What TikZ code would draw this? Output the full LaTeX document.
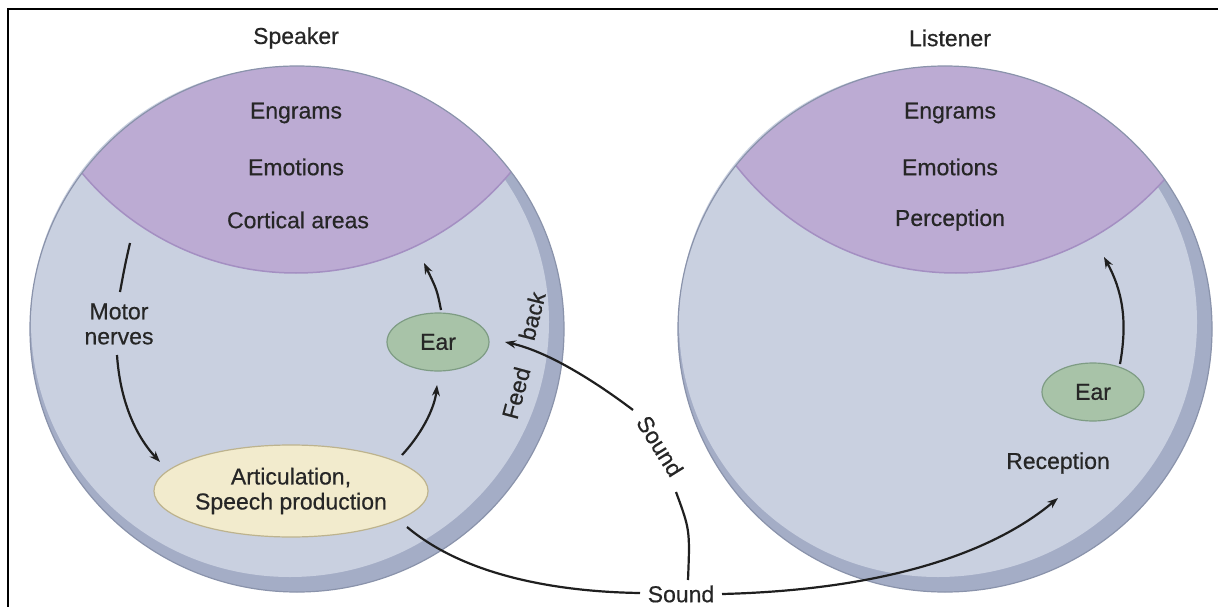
\documentclass[tikz,border=0pt]{standalone}
\usepackage{fontspec}
\setmainfont{Liberation Sans}
\usetikzlibrary{shapes.geometric,arrows.meta}
\definecolor{rimc}{HTML}{A4ADC6}
\definecolor{bodyc}{HTML}{C9D0E0}
\definecolor{edgec}{HTML}{8A93AB}
\definecolor{purp}{HTML}{BCABD3}
\definecolor{purpedge}{HTML}{A48FC2}
\definecolor{creamc}{HTML}{F2EBCD}
\definecolor{creamedge}{HTML}{BDB38E}
\definecolor{greenc}{HTML}{A8C3A8}
\definecolor{greenedge}{HTML}{7E9C84}
\definecolor{txt}{HTML}{262626}
\begin{document}
\begin{tikzpicture}[x=1pt,y=-1pt,
  lbl/.style={font=\fontsize{23}{25}\selectfont\addfontfeature{FakeBold=0.5}, text=txt, inner sep=1pt, align=center},
  oval/.style={ellipse, draw, line width=1.2pt, inner sep=0pt},
  conn/.style={line width=2.2pt, draw=black!88},
  arr/.style={conn, -{Stealth[length=11pt,width=8pt]}}]
\useasboundingbox (0,0) rectangle (1218,607);
\fill[white] (0,0) rectangle (1218,607);
\draw[line width=2.5pt] (8,607) -- (8,9) -- (1218,9);

% ---------- Speaker circle ----------
\fill[rimc] (297,329) ellipse [x radius=267pt, y radius=263pt];
\fill[bodyc] (290,322) ellipse [x radius=259pt, y radius=255pt];
\begin{scope}
  \clip (297,329) ellipse [x radius=267pt, y radius=263pt];
  \fill[purp] (296,-6) circle [radius=279pt];
  \draw[purpedge, line width=1.5pt] (296,-6) circle [radius=279pt];
\end{scope}
\draw[edgec, line width=1.2pt] (297,329) ellipse [x radius=267pt, y radius=263pt];

% ---------- Listener circle ----------
\fill[rimc] (945,329) ellipse [x radius=267pt, y radius=263pt];
\fill[bodyc] (938,322) ellipse [x radius=259pt, y radius=255pt];
\begin{scope}
  \clip (945,329) ellipse [x radius=267pt, y radius=263pt];
  \fill[purp] (956,-6) circle [radius=279pt];
  \draw[purpedge, line width=1.5pt] (956,-6) circle [radius=279pt];
\end{scope}
\draw[edgec, line width=1.2pt] (945,329) ellipse [x radius=267pt, y radius=263pt];

% ---------- Texts ----------
\node[lbl] (speaker) at (296,38) {Speaker};
\node[lbl] (listener) at (950,38) {Listener};
\node[lbl] (engL) at (296,113) {Engrams};
\node[lbl] (emoL) at (296,167) {Emotions};
\node[lbl] (cortL) at (298,220) {Cortical areas};
\node[lbl] (engR) at (950,113) {Engrams};
\node[lbl] (emoR) at (950,167) {Emotions};
\node[lbl] (percR) at (950,220) {Perception};
\node[lbl] (motor) at (119,324) {Motor\\nerves};
\node[lbl] (recep) at (1058,463) {Reception};
\node[lbl, rotate=75] (feed) at (516,393) {Feed};
\node[lbl, rotate=76] (back) at (532,316) {back};
\node[lbl] (soundB) at (681,594) {Sound};
\node[lbl, rotate=-58] (soundS) at (660,446) {Sound};

% ---------- Ovals ----------
\node[oval, fill=creamc, draw=creamedge, minimum width=274pt, minimum height=92pt, lbl]
  (artic) at (291,491) {Articulation,\\Speech production};
\node[oval, fill=greenc, draw=greenedge, minimum width=102pt, minimum height=58pt, lbl]
  (earL) at (438,342) {Ear};
\node[oval, fill=greenc, draw=greenedge, minimum width=102pt, minimum height=58pt, lbl]
  (earR) at (1093,392) {Ear};

% ---------- Connector end points ----------
\coordinate (cortB) at (130,243);
\coordinate (motorT) at (120,292);
\coordinate (motorB) at (117,355);
\coordinate (articIn) at (160,462);
\coordinate (articOut) at (402,455);
\coordinate (earLin) at (437,385);
\coordinate (earLout) at (441,310);
\coordinate (cortIn) at (424,263);
\coordinate (earRout) at (1120,364);
\coordinate (percIn) at (1104,257);
\coordinate (articS) at (407,527);
\coordinate (sndBl) at (640,593);
\coordinate (sndBr) at (722,594);
\coordinate (recIn) at (1058,498);
\coordinate (sndBt) at (688,580);
\coordinate (sndSb) at (676,492);
\coordinate (sndSt) at (633,410);
\coordinate (earLfb) at (505,342);

% ---------- Connectors ----------
\draw[conn] (cortB) .. controls (125,265) .. (motorT);
\draw[arr] (motorB) .. controls (120,400) and (135,435) .. (articIn);
\draw[arr] (articOut) .. controls (425,430) and (435,405) .. (earLin);
\draw[arr] (earLout) .. controls (437,290) .. (cortIn);
\draw[arr] (earRout) .. controls (1128,320) and (1122,290) .. (percIn);
\draw[conn] (articS) .. controls (470,580) and (570,592) .. (sndBl);
\draw[arr] (sndBr) .. controls (880,590) and (990,555) .. (recIn);
\draw[conn] (sndBt) .. controls (690,530) .. (sndSb);
\draw[arr] (sndSt) .. controls (600,385) and (550,352) .. (earLfb);
\end{tikzpicture}
\end{document}
